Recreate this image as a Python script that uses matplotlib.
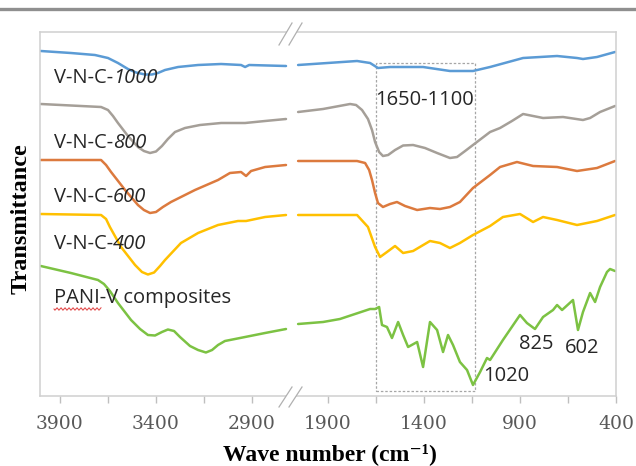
import numpy as np
import matplotlib
matplotlib.use("Agg")
import matplotlib.pyplot as plt
from matplotlib.lines import Line2D
from matplotlib.patches import Rectangle, Polygon

# ---------------- data (wavenumber cm-1, transmittance a.u.) ----------------
wn_l_1000 = [4000, 3843, 3718, 3650, 3598, 3546, 3504, 3457, 3421, 3390, 3353, 3285, 3181, 3061, 2957, 2936, 2915, 2723]
t_l_1000 = [349, 347, 345, 342, 337, 331, 327.5, 325.5, 325.5, 327, 330, 333, 335, 336, 335, 333, 335, 334]
wn_r_1000 = [2056, 1749, 1681, 1640, 1577, 1405, 1265, 1145, 1056, 884, 707, 603, 572, 499, 405]
t_r_1000 = [335, 339, 337, 332, 333, 333, 329, 329, 333, 342, 344, 342, 341, 343, 348]

wn_l_800 = [4000, 3686, 3650, 3624, 3598, 3546, 3494, 3463, 3431, 3400, 3369, 3338, 3301, 3249, 3171, 3061, 2936, 2832, 2723]
t_l_800 = [296, 293, 290, 284, 277, 264, 253, 249, 247, 248.5, 254, 261, 268, 272, 275, 277, 277, 279, 281]
wn_r_800 = [2056, 1926, 1785, 1754, 1723, 1692, 1671, 1655, 1634, 1614, 1587, 1551, 1509, 1457, 1395, 1332,
            1265, 1228, 1186, 1145, 1056, 1004, 942, 884, 832, 780, 676, 572, 535, 483, 405]
t_r_800 = [288, 291, 296, 295, 290, 281, 270, 258, 248, 244, 245, 250, 254.5, 255, 252, 247,
           242, 243, 249, 255, 268, 272, 279, 286, 284, 282, 283, 280, 282, 288, 294]

wn_l_600 = [4000, 3686, 3660, 3634, 3561, 3494, 3463, 3431, 3400, 3364, 3322, 3197, 3077, 3015, 2957, 2931, 2905, 2832, 2723]
t_l_600 = [240, 240, 235, 228, 210, 195, 190, 187, 188, 193, 198, 210, 220, 227, 228, 224, 229, 233, 235]
wn_r_600 = [2056, 1749, 1707, 1686, 1671, 1655, 1640, 1614, 1577, 1541, 1499, 1436, 1369, 1317, 1265, 1213,
            1145, 1056, 1004, 916, 832, 707, 603, 499, 405]
t_r_600 = [239, 239, 237, 230, 220, 207, 197, 193, 196, 198, 194, 190, 192, 191, 193, 198,
           212, 225, 233, 238, 234, 233, 229, 232, 239]

wn_l_400 = [4000, 3686, 3660, 3640, 3582, 3509, 3473, 3442, 3410, 3379, 3353, 3270, 3181, 3077, 2973, 2931, 2832, 2723]
t_l_400 = [186, 185, 181, 173, 153, 135, 128, 125.5, 127.5, 134, 140, 157, 167, 175, 179, 179, 183, 185]
wn_r_400 = [2056, 1749, 1692, 1655, 1629, 1593, 1551, 1509, 1457, 1369, 1317, 1265, 1213, 1145, 1056, 989, 900, 832, 780, 707, 603, 499, 405]
t_r_400 = [185, 185, 173, 153, 143, 148, 154, 147, 149, 159, 157, 152, 157, 165, 174, 183, 186, 178, 183, 180, 175, 179, 185]

wn_l_pani = [4000, 3843, 3702, 3671, 3640, 3598, 3530, 3483, 3442, 3405, 3369, 3338, 3306, 3275, 3223, 3181,
             3140, 3108, 3077, 3041, 2936, 2832, 2723]
t_l_pani = [134, 127, 120, 116, 109, 97, 80, 71, 65, 64.5, 68, 70.5, 69, 63, 54, 50,
            47.5, 50, 55, 59, 63, 67, 71]
wn_r_pani = [2056, 1926, 1838, 1681, 1655, 1634, 1619, 1593, 1567, 1535, 1509, 1483, 1436, 1405, 1369, 1332,
             1301, 1275, 1249, 1213, 1176, 1145, 1108, 1072, 1056, 989, 900, 864, 822, 780, 728, 707, 681,
             624, 598, 572, 535, 509, 483, 447, 431, 405]
t_r_pani = [76, 78, 81, 91, 91, 93, 75, 73, 62, 78, 65, 53, 58, 33, 78, 70,
            48, 65, 55, 38, 30, 15, 28, 42, 40, 60, 85, 77, 71, 83, 90, 95, 90,
            100, 70, 88, 107, 98, 113, 128, 131, 129]

series_names = ["V-N-C-", "V-N-C-", "V-N-C-", "V-N-C-", "PANI-V composites"]
series_temps = ["1000", "800", "600", "400", ""]
label_t = [322, 257, 203, 156, 102]
colors = ["#5b9bd5", "#a59f98", "#dc7a3e", "#ffc000", "#7cc243"]

peak_labels = ["1650-1100", "1020", "825", "602"]
peak_wn = [1655, 1093, 905, 666]
peak_t = [300, 24, 56, 52]
box_wn = (1650, 1135)
box_t = (9, 337)

left_lim = (4004, 2697)
right_lim = (2093, 400)
y_lim = (4, 368)
left_major = [3900, 3400, 2900]
left_minor = [3650, 3150]
right_major = [1900, 1400, 900, 400]
right_minor = [1650, 1150, 650]

# ---------------- figure ----------------
W, H = 636, 466
fig = plt.figure(figsize=(W / 100, H / 100), dpi=100)

def fx(px):
    return px / W

def fy(py):
    return 1 - py / H

axl = fig.add_axes([fx(40), fy(396), fx(291) - fx(40), fy(32) - fy(396)])
axr = fig.add_axes([fx(291), fy(396), fx(616) - fx(291), fy(32) - fy(396)])

lefts = [(wn_l_1000, t_l_1000), (wn_l_800, t_l_800), (wn_l_600, t_l_600), (wn_l_400, t_l_400), (wn_l_pani, t_l_pani)]
rights = [(wn_r_1000, t_r_1000), (wn_r_800, t_r_800), (wn_r_600, t_r_600), (wn_r_400, t_r_400), (wn_r_pani, t_r_pani)]

for (xl, yl), (xr, yr), c in zip(lefts, rights, colors):
    axl.plot(xl, yl, color=c, lw=1.8, solid_joinstyle="round", solid_capstyle="round")
    axr.plot(xr, yr, color=c, lw=1.8, solid_joinstyle="round", solid_capstyle="round")

frame_c = "#d0d0d0"
tick_c = "#595959"
for ax, lim in ((axl, left_lim), (axr, right_lim)):
    ax.set_xlim(*lim)
    ax.set_ylim(*y_lim)
    ax.set_yticks([])
    for s in ax.spines.values():
        s.set_color(frame_c)
        s.set_linewidth(1.1)
    ax.tick_params(axis="x", which="both", direction="out", length=5, width=1,
                   color="#bfbfbf", labelcolor=tick_c, pad=9)

axl.spines["right"].set_visible(False)
axr.spines["left"].set_visible(False)

tick_font = dict(family="DejaVu Serif", size=13.5)
axl.set_xticks(left_major)
axl.set_xticks(left_minor, minor=True)
axl.set_xticklabels([str(v) for v in left_major], fontdict=tick_font)
axr.set_xticks(right_major)
axr.set_xticks(right_minor, minor=True)
axr.set_xticklabels([str(v) for v in right_major], fontdict=tick_font)

# series labels
lab_font = dict(family="Open Sans", size=14.5, color="#262626")
for name, temp, ty in zip(series_names, series_temps, label_t):
    t1 = axl.text(3931, ty, name, ha="left", va="center", **lab_font)
    if temp:
        axl.annotate(temp, xy=(1, 0), xycoords=t1, ha="left", va="bottom",
                     fontstyle="italic", **lab_font)

# peak labels and dashed box
for s, xw, ty in zip(peak_labels, peak_wn, peak_t):
    axr.text(xw, ty, s, ha="left", va="center", **lab_font)
axr.add_patch(Rectangle((box_wn[0], box_t[0]), box_wn[1] - box_wn[0], box_t[1] - box_t[0],
                        fill=False, ec="#a6a6a6", lw=0.9, ls=(0, (2, 1.5))))

# axis titles
fig.text(fx(330), fy(460), "Wave number (cm\u207b\u00b9)", ha="center", va="baseline",
         family=["Liberation Serif", "DejaVu Serif"], weight="bold", size=17)
fig.text(fx(21), fy(219), "Transmittance", ha="center", va="center", rotation=90,
         family="Liberation Serif", weight="bold", size=17.5)

# decorations: top bar, axis break marks, spell-check squiggle
fig.add_artist(Line2D([0, 1], [fy(8.5), fy(8.5)], transform=fig.transFigure, color="#8f8f8f", lw=2.4))
for (y0, y1) in ((45, 23), (407, 387)):
    gap = Polygon([(fx(279), fy(y0)), (fx(292), fy(y1)), (fx(302), fy(y1)), (fx(289), fy(y0))],
                  closed=True, transform=fig.transFigure, fc="white", ec="none", zorder=5)
    fig.add_artist(gap)
    for dx in (0, 10):
        fig.add_artist(Line2D([fx(279 + dx), fx(292 + dx)], [fy(y0), fy(y1)], transform=fig.transFigure,
                              color="#b0b0b0", lw=0.9, zorder=6))
sx = np.linspace(54, 101, 60)
sy = 309 + 1.2 * np.sin((sx - 54) * 2 * np.pi / 4)
fig.add_artist(Line2D(fx(sx), fy(sy), transform=fig.transFigure, color="#e03c3c", lw=0.7, zorder=6))

fig.savefig("out.png", dpi=100)
